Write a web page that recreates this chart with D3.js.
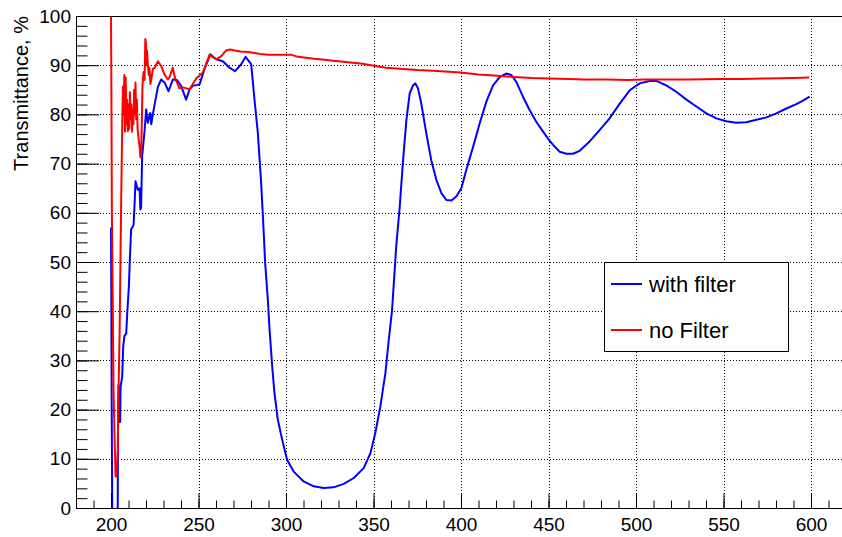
<!DOCTYPE html>
<html>
<head>
<meta charset="utf-8">
<script src="https://cdn.jsdelivr.net/npm/d3@7"></script>
<style>
  html, body { margin: 0; padding: 0; background: #fff; }
  svg { display: block; font-family: "Liberation Sans", Arial, Helvetica, sans-serif; }
</style>
</head>
<body>
<svg id="chart" width="842" height="537"></svg>
<script>
// Wavelength (nm) and transmittance (%) measured with the filter in place
const wlFilter = [200, 200.2, 200.4, 200.8, 203.8, 204.0, 204.3, 204.6, 205.2, 205.5, 206.4, 207.0, 207.7, 208.7, 209.3, 210.2, 210.6, 211.5, 212.9, 213.5, 214.0, 215.3, 216.3, 216.8, 217.2, 217.8, 219.1, 220.1, 220.5, 221.0, 222.4, 223.0, 223.9, 224.9, 226.8, 228.7, 230.6, 232.9, 235.3, 237.6, 240.1, 242.9, 244.9, 246.7, 250.6, 253.4, 256.7, 260.1, 263.9, 267.7, 270.9, 274.4, 276.9, 280.1, 282.0, 283.9, 285.8, 286.8, 288.1, 289.6, 290.6, 292.1, 293.4, 295.3, 297.8, 300.6, 304.4, 310.1, 315.8, 321.5, 327.2, 333.0, 338.7, 344.4, 348.2, 351.0, 353.9, 356.8, 358.7, 360.6, 361.5, 363.0, 365.0, 366.9, 368.8, 370.7, 372.6, 373.9, 375.4, 377.3, 380.2, 383.0, 385.9, 388.8, 391.6, 394.5, 397.3, 400.2, 403.0, 406.9, 410.7, 414.5, 418.3, 422.1, 425.9, 428.8, 431.6, 435.4, 439.2, 443.0, 446.9, 449.7, 452.6, 456.4, 460.2, 464.0, 467.8, 473.5, 479.2, 484.9, 490.7, 496.4, 502.1, 507.8, 511.6, 517.3, 523.0, 528.8, 534.5, 540.2, 545.9, 551.6, 557.3, 563.0, 568.8, 574.5, 580.2, 585.9, 591.6, 595.4, 599.2];
const tFilter = [57, 41, 20, -5, -5, 16, 25, 17.5, 17.5, 24.7, 26.7, 33, 35, 35.5, 39.7, 45, 49, 56.6, 57.5, 62, 66.4, 64.7, 65, 60.7, 61, 71.5, 76.3, 81, 80, 78.3, 80.3, 78, 80, 82, 85.6, 87.1, 86.5, 84.7, 87.1, 87, 85.8, 83, 85.1, 85.8, 86.1, 89.2, 92.2, 91.2, 90.8, 89.5, 88.8, 90.2, 91.7, 90.2, 83, 76.3, 66.1, 59.3, 49.8, 42.4, 36.3, 28.8, 23.4, 18, 13.9, 9.8, 7.4, 5.4, 4.4, 4.05, 4.2, 4.9, 6.1, 8.1, 11.1, 15.2, 20.6, 27.4, 34.1, 40.2, 45.1, 53.2, 61.3, 70.7, 78.9, 84.3, 85.9, 86.3, 85.3, 82.2, 76.1, 70.7, 66.7, 64, 62.6, 62.5, 63.3, 65, 68.7, 73.4, 78.2, 82.6, 85.9, 87.6, 88.3, 88, 86.6, 83.6, 80.9, 78.5, 76.5, 75.1, 73.8, 72.4, 72, 72, 72.6, 74.5, 76.8, 79.2, 82.2, 84.9, 86.3, 86.8, 86.8, 85.9, 84.6, 83, 81.6, 80.2, 79.2, 78.6, 78.3, 78.4, 78.9, 79.4, 80.2, 81.2, 82.1, 82.8, 83.6];

// Same measurement without the filter
const wlNoFilter = [200, 200.2, 200.5, 201.0, 201.4, 202.0, 202.6, 203.2, 203.9, 204.2, 204.9, 205.4, 205.8, 206.3, 206.8, 207.2, 207.6, 208.0, 208.4, 208.8, 209.2, 209.6, 210.0, 210.4, 210.8, 211.2, 211.6, 212.0, 212.4, 212.8, 213.2, 213.6, 214.0, 214.4, 214.8, 215.2, 215.8, 216.3, 216.8, 217.2, 217.6, 218.0, 218.6, 219.2, 219.6, 220.0, 220.3, 220.6, 221.0, 221.5, 222.0, 222.5, 223.0, 223.9, 225.0, 226.8, 228.7, 230.6, 232.5, 233.5, 235.3, 236.5, 239.1, 241.0, 244.9, 248.7, 252.5, 256.3, 260.1, 263.2, 265.8, 268.0, 270.8, 274.0, 278.4, 282.0, 285.1, 289.9, 293.6, 300.0, 303.2, 307.0, 311.4, 316.0, 322.2, 327.0, 332.9, 338.0, 343.7, 350.1, 357.0, 365.2, 375.0, 386.7, 399.6, 410.0, 418.9, 430.0, 440.4, 450.0, 461.9, 470.0, 483.4, 495.0, 504.9, 515.0, 530.0, 548.0, 560.0, 575.0, 590.0, 599.0];
const tNoFilter = [100, 86.4, 60, 42, 25, 15, 6.4, 6.5, 12, 22, 35, 50, 62, 75, 85.6, 80, 88, 76.5, 87.5, 78, 83, 76.6, 82, 77, 84.5, 79, 82, 76.5, 81, 78, 85, 80, 86.5, 79, 83, 77, 75, 73.5, 71.3, 71.5, 78, 86, 88.6, 87, 95.3, 94.5, 90, 93, 90.5, 88, 89.5, 86.2, 87, 89.2, 89.5, 90.8, 89.8, 88.1, 87.1, 87.6, 89.5, 87.5, 85.3, 85.5, 85.1, 87.3, 88.5, 92.1, 91.2, 91.9, 93, 93.2, 93, 92.8, 92.7, 92.5, 92.3, 92.1, 92.1, 92.1, 92.1, 91.7, 91.5, 91.3, 91.1, 90.9, 90.7, 90.5, 90.3, 89.9, 89.5, 89.3, 89, 88.8, 88.5, 88.1, 87.9, 87.6, 87.4, 87.3, 87.2, 87.1, 87.1, 87, 87.1, 87.1, 87.1, 87.2, 87.2, 87.3, 87.4, 87.5];

// Axis tick values
const xMajorTicks = [200, 250, 300, 350, 400, 450, 500, 550, 600];
const xMinorTicks = d3.range(190, 620, 10);
const yMajorTicks = [0, 10, 20, 30, 40, 50, 60, 70, 80, 90, 100];
const yMinorTicks = d3.range(0, 101, 2);

const series = [
  { name: "with filter", color: "#0000ff", xs: wlFilter, ys: tFilter },
  { name: "no Filter",   color: "#ff0000", xs: wlNoFilter, ys: tNoFilter }
];

const frame = { left: 76, top: 16, right: 846, bottom: 508 };
const svg = d3.select("#chart");

const x = d3.scaleLinear().domain([180, 620]).range([frame.left, frame.right]);
const y = d3.scaleLinear().domain([0, 100]).range([frame.bottom, frame.top]);

svg.append("defs").append("clipPath").attr("id", "frameClip")
  .append("rect")
  .attr("x", frame.left).attr("y", frame.top)
  .attr("width", frame.right - frame.left).attr("height", frame.bottom - frame.top);

// Dotted grid at the major ticks
const grid = svg.append("g")
  .attr("stroke", "#000").attr("stroke-width", 1).attr("stroke-dasharray", "1,2");
grid.selectAll("line.gx").data(xMajorTicks).join("line")
  .attr("class", "gx")
  .attr("x1", d => Math.round(x(d)) + 0.5).attr("x2", d => Math.round(x(d)) + 0.5)
  .attr("y1", frame.top).attr("y2", frame.bottom);
grid.selectAll("line.gy").data(yMajorTicks.filter(d => d > 0 && d < 100)).join("line")
  .attr("class", "gy")
  .attr("x1", frame.left).attr("x2", frame.right)
  .attr("y1", d => Math.round(y(d)) + 0.5).attr("y2", d => Math.round(y(d)) + 0.5);

// Curves
const plot = svg.append("g").attr("clip-path", "url(#frameClip)");
series.forEach(s => {
  const pts = s.xs.map((v, i) => [v, s.ys[i]]);
  plot.append("path")
    .datum(pts)
    .attr("fill", "none")
    .attr("stroke", s.color)
    .attr("stroke-width", 2)
    .attr("stroke-linejoin", "round")
    .attr("d", d3.line().x(d => x(d[0])).y(d => y(d[1])));
});

// Axes: ticks point into the frame
function styleAxis(g) {
  g.selectAll(".domain").attr("stroke", "#000");
  g.selectAll(".tick line").attr("stroke", "#000");
  g.selectAll("text").attr("fill", "#000").attr("font-size", 19)
    .attr("font-family", "'Liberation Sans', Arial, Helvetica, sans-serif");
}

svg.append("g")
  .attr("transform", `translate(0,${frame.bottom})`)
  .call(d3.axisBottom(x).tickValues(xMinorTicks).tickSize(-7.5).tickSizeOuter(0).tickFormat(""))
  .call(styleAxis);
svg.append("g")
  .attr("transform", `translate(0,${frame.bottom})`)
  .call(d3.axisBottom(x).tickValues(xMajorTicks).tickSize(-15).tickSizeOuter(0).tickPadding(9.5).tickFormat(d3.format("d")))
  .call(styleAxis)
  .call(g => g.select(".domain").remove());

svg.append("g")
  .attr("transform", `translate(${frame.left},0)`)
  .call(d3.axisLeft(y).tickValues(yMinorTicks).tickSize(-11.5).tickSizeOuter(0).tickFormat(""))
  .call(styleAxis);
svg.append("g")
  .attr("transform", `translate(${frame.left},0)`)
  .call(d3.axisLeft(y).tickValues(yMajorTicks).tickSize(-23).tickSizeOuter(0).tickPadding(5).tickFormat(d3.format("d")))
  .call(styleAxis)
  .call(g => g.select(".domain").remove());

// Top edge of the frame
svg.append("line")
  .attr("x1", frame.left).attr("x2", frame.right)
  .attr("y1", frame.top + 0.5).attr("y2", frame.top + 0.5)
  .attr("stroke", "#000");

// Axis title
svg.append("text")
  .attr("transform", `translate(28,${frame.top}) rotate(-90)`)
  .attr("text-anchor", "end")
  .attr("font-size", 20)
  .attr("fill", "#000")
  .text("Transmittance, %");

// Legend
const legend = svg.append("g");
legend.append("rect")
  .attr("x", 604.5).attr("y", 262.5).attr("width", 184).attr("height", 89)
  .attr("fill", "#fff").attr("stroke", "#000").attr("stroke-width", 1);
series.forEach((s, i) => {
  const cy = 284 + i * 46;
  legend.append("line")
    .attr("x1", 611).attr("x2", 642).attr("y1", cy).attr("y2", cy)
    .attr("stroke", s.color).attr("stroke-width", 2);
  legend.append("text")
    .attr("x", 649).attr("y", cy).attr("dy", "0.36em")
    .attr("font-size", 22).attr("fill", "#000")
    .text(s.name);
});
</script>
</body>
</html>
